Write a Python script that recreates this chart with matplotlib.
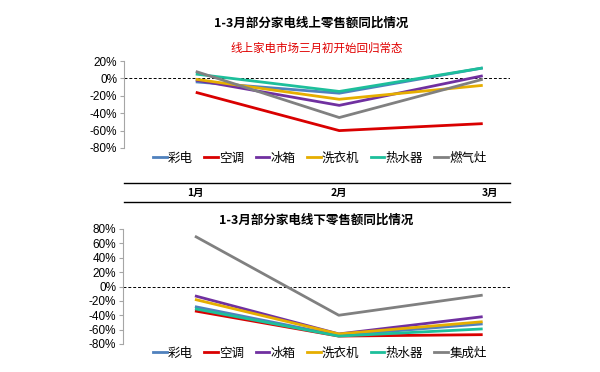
import matplotlib
matplotlib.use("Agg")
import matplotlib.pyplot as plt
from matplotlib.lines import Line2D

plt.rcParams['font.family'] = ['Noto Sans CJK SC', 'DejaVu Sans']

months = ["1月", "2月", "3月"]

# Online retail YoY (%)
online_names = ["彩电", "空调", "冰箱", "洗衣机", "热水器", "燃气灶"]
online_tv = [-4, -17, 12]
online_ac = [-16, -60, -52]
online_fridge = [-2, -31, 3]
online_washer = [-1, -24, -8]
online_heater = [5, -15, 12]
online_stove = [8, -45, -1]

# Offline retail YoY (%)
offline_names = ["彩电", "空调", "冰箱", "洗衣机", "热水器", "集成灶"]
offline_tv = [-28, -68, -52]
offline_ac = [-34, -69, -67]
offline_fridge = [-13, -66, -42]
offline_washer = [-18, -66, -49]
offline_heater = [-31, -69, -59]
offline_stove = [70, -40, -12]

colors = ["#4F81BD", "#D90000", "#7030A0", "#E6AE00", "#1DBF9B", "#808080"]

W, H = 600, 372
fig = plt.figure(figsize=(6, 3.72), dpi=100)


def px_axes(x0, y0, x1, y1):
    # pixel box (top-left origin) -> figure axes
    return fig.add_axes([x0 / W, 1 - y1 / H, (x1 - x0) / W, (y1 - y0) / H])


def style_axis(ax, ylim, yticks):
    ax.set_xlim(-0.5, 2.19)
    ax.set_ylim(*ylim)
    ax.set_yticks(yticks)
    ax.set_yticklabels([f"{v}%" for v in yticks], fontsize=8.5, family="Liberation Sans")
    ax.set_xticks([])
    for s in ["top", "right", "bottom"]:
        ax.spines[s].set_visible(False)
    ax.spines["left"].set_color("#A6A6A6")
    ax.tick_params(axis="y", color="#A6A6A6", length=3, width=0.8, pad=2)
    ax.axhline(0, color="black", lw=0.7, ls=(0, (3, 2)))
    ax.patch.set_alpha(0)


def draw_lines(ax, series):
    for vals, c in zip(series, colors):
        ax.plot(range(len(months)), vals, color=c, lw=2, solid_capstyle="butt")


def add_legend(names, ypix):
    handles = [Line2D([], [], color=c, lw=2) for c in colors]
    fig.legend(handles, names, loc="center", bbox_to_anchor=(320 / W, 1 - ypix / H),
               ncol=6, frameon=False, fontsize=9, handlelength=1.1,
               handletextpad=0.1, columnspacing=0.9, borderaxespad=0)


# top chart
ax1 = px_axes(124, 61, 510, 148)
style_axis(ax1, (-80, 20), [20, 0, -20, -40, -60, -80])
draw_lines(ax1, [online_tv, online_ac, online_fridge, online_washer, online_heater, online_stove])
fig.text(311 / W, 1 - 23 / H, "1-3月部分家电线上零售额同比情况", ha="center", va="center",
         fontsize=9, fontweight="bold")
fig.text(317 / W, 1 - 48 / H, "线上家电市场三月初开始回归常态", ha="center", va="center",
         fontsize=8.3, color="#E00000")
add_legend(online_names, 158)

# month axis between charts
axm = px_axes(124, 183, 510, 202)
axm.set_xlim(-0.5, 2.19)
axm.set_ylim(0, 1)
axm.set_xticks([])
axm.set_yticks([])
for s in ["left", "right"]:
    axm.spines[s].set_visible(False)
for s in ["top", "bottom"]:
    axm.spines[s].set_color("black")
    axm.spines[s].set_linewidth(1)
for i, m in enumerate(months):
    axm.text(i + (0.05 if i == 2 else 0), 0.5, m, ha="center", va="center",
             fontsize=7.5, fontweight="bold")

# bottom chart
ax2 = px_axes(123, 229, 510, 344)
style_axis(ax2, (-80, 80), [80, 60, 40, 20, 0, -20, -40, -60, -80])
draw_lines(ax2, [offline_tv, offline_ac, offline_fridge, offline_washer, offline_heater, offline_stove])
fig.text(316 / W, 1 - 220 / H, "1-3月部分家电线下零售额同比情况", ha="center", va="center",
         fontsize=9, fontweight="bold")
add_legend(offline_names, 353)

fig.savefig("out.png", dpi=100)
